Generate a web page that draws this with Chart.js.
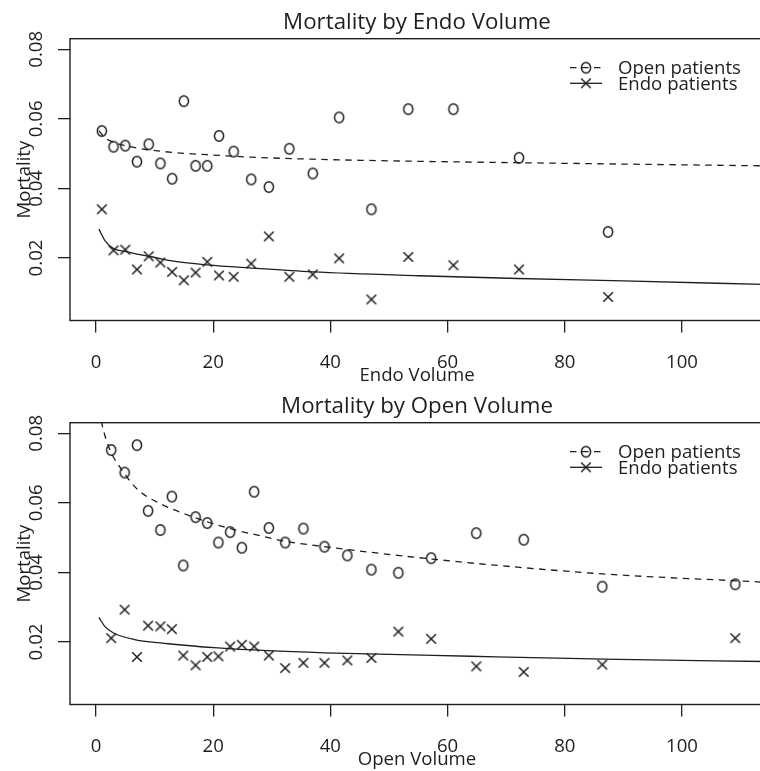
<!DOCTYPE html>
<html>
<head>
<meta charset="utf-8">
<script src="https://cdn.jsdelivr.net/npm/chart.js@4.4.1/dist/chart.umd.min.js"></script>
<style>
  html, body { margin: 0; padding: 0; background: #fff; overflow: hidden; width: 760px; height: 771px; }
  canvas { position: absolute; left: 0; }
  #topChart { top: 0; }
  #bottomChart { top: 384px; }
</style>
</head>
<body>
<canvas id="topChart" width="770" height="387"></canvas>
<canvas id="bottomChart" width="770" height="387"></canvas>
<script>
// top panel: mortality by endo volume
const endoVolume = [1, 3, 5, 7, 9, 11, 13, 15, 17, 19, 21, 23.5, 26.5, 29.5, 33, 37, 41.5, 47, 53.3, 61, 72.2, 87.4];
const openMortByEndo = [0.0565, 0.0520, 0.0523, 0.0477, 0.0527, 0.0472, 0.0428, 0.0651, 0.0465, 0.0465, 0.0551,
  0.0506, 0.0426, 0.0404, 0.0514, 0.0443, 0.0604, 0.0340, 0.0628, 0.0628, 0.0488, 0.0275];
const endoMortByEndo = [0.0340, 0.0222, 0.0224, 0.0167, 0.0205, 0.0187, 0.0160, 0.0136, 0.0158, 0.0189, 0.0150,
  0.0146, 0.0184, 0.0262, 0.0146, 0.0153, 0.0199, 0.0081, 0.0203, 0.0179, 0.0167, 0.0088];
// fitted curves
const fitEndoVolume = [0.5, 1.5, 3, 5, 7, 9, 13.5, 19, 26.5, 37, 55, 72, 90, 114];
const openFitByEndo = [0.0566, 0.0546, 0.0533, 0.0523, 0.0516, 0.0511, 0.0503, 0.0497, 0.0490, 0.0484, 0.0478, 0.0474, 0.0470, 0.0465];
const endoFitByEndo = [0.0283, 0.0251, 0.0227, 0.0219, 0.0211, 0.0205, 0.0190, 0.0180, 0.0171, 0.0160, 0.0149, 0.0141, 0.0134, 0.0124];

// bottom panel: mortality by open volume
const openVolume = [2.6, 4.9, 7.0, 8.9, 11.0, 12.95, 14.9, 17.0, 19.0, 20.9, 22.9, 24.9, 27.0, 29.5, 32.3, 35.4,
  39.0, 42.9, 47.0, 51.6, 57.2, 64.9, 73.0, 86.4, 109.1];
const openMortByOpen = [0.0752, 0.0687, 0.0766, 0.0577, 0.0522, 0.0618, 0.0420, 0.0559, 0.0542, 0.0486, 0.0516,
  0.0471, 0.0632, 0.0528, 0.0486, 0.0526, 0.0474, 0.0449, 0.0408, 0.0399, 0.0441, 0.0513, 0.0494, 0.0359, 0.0366];
const endoMortByOpen = [0.0211, 0.0293, 0.0157, 0.0247, 0.0245, 0.0237, 0.0161, 0.0133, 0.0157, 0.0159, 0.0187,
  0.0192, 0.0187, 0.0161, 0.0125, 0.0140, 0.0140, 0.0147, 0.0154, 0.0230, 0.0209, 0.0130, 0.0114, 0.0135, 0.0211];
const fitOpenVolumeA = [0.5, 1.24, 2.4, 4.4, 7.2, 11.2, 15.2, 19.1, 23.1, 27.6, 32.2, 39, 57, 72, 89, 108, 114];
const openFitByOpen = [0.0870, 0.0811, 0.0752, 0.0695, 0.0637, 0.0596, 0.0568, 0.0545, 0.0525, 0.0507, 0.0490, 0.0474,
  0.0439, 0.0415, 0.0393, 0.0377, 0.0372];
const fitOpenVolumeB = [0.5, 1.5, 3, 6.6, 12.3, 20.8, 29.3, 39, 64, 89, 114];
const endoFitByOpen = [0.0271, 0.0245, 0.0226, 0.0207, 0.0195, 0.0183, 0.0175, 0.0169, 0.0159, 0.0150, 0.0144];

const xTicks = [0, 20, 40, 60, 80, 100];
const yTicks = [0.02, 0.04, 0.06, 0.08];
const legendLabels = ['Open patients', 'Endo patients'];

const INK = '#1e1e1e';
const FONT = '18.6px "Open Sans"';
const TITLE_FONT = '22.3px "Open Sans"';
const DASH = [6.5, 5.5];

// R-like "o" and "x" plotting characters
function glyph(kind) {
  const c = document.createElement('canvas');
  c.width = 14; c.height = 14;
  const g = c.getContext('2d');
  g.strokeStyle = INK;
  g.lineWidth = 1.5;
  g.beginPath();
  if (kind === 'o') {
    g.ellipse(7, 7, 4.6, 5.2, 0, 0, Math.PI * 2);
  } else {
    g.moveTo(2.2, 2.2); g.lineTo(11.8, 11.8);
    g.moveTo(11.8, 2.2); g.lineTo(2.2, 11.8);
  }
  g.stroke();
  return c;
}
const oMark = glyph('o');
const xMark = glyph('x');

// box, titles, tick labels and legend in the style of base R graphics
const rFrame = {
  id: 'rFrame',
  afterDraw(chart, args, opts) {
    const { ctx, chartArea: a, scales: { x, y } } = chart;
    const cx = (a.left + a.right) / 2;
    ctx.save();
    ctx.strokeStyle = INK;
    ctx.lineWidth = 1.4;
    ctx.strokeRect(a.left, a.top, a.right - a.left, a.bottom - a.top);

    ctx.fillStyle = INK;
    ctx.textBaseline = 'alphabetic';
    ctx.textAlign = 'center';
    ctx.font = TITLE_FONT;
    ctx.fillText(opts.title, cx, 29);

    ctx.font = FONT;
    xTicks.forEach(v => ctx.fillText(String(v), x.getPixelForValue(v), 368));
    ctx.fillText(opts.xTitle, cx, 380.5);

    yTicks.forEach(v => {
      ctx.save();
      ctx.translate(41.5, y.getPixelForValue(v));
      ctx.rotate(-Math.PI / 2);
      ctx.fillText(v.toFixed(2), 0, 0);
      ctx.restore();
    });
    ctx.save();
    ctx.translate(29.5, (a.top + a.bottom) / 2);
    ctx.rotate(-Math.PI / 2);
    ctx.fillText('Mortality', 0, 0);
    ctx.restore();

    // legend
    const rows = [67.7, 83.3];
    ctx.lineWidth = 1.3;
    rows.forEach((ry, i) => {
      ctx.beginPath();
      ctx.setLineDash(i === 0 ? DASH : []);
      ctx.moveTo(570, ry);
      ctx.lineTo(602, ry);
      ctx.stroke();
      ctx.setLineDash([]);
      ctx.drawImage(i === 0 ? oMark : xMark, 586 - 7, ry - 7);
      ctx.textAlign = 'left';
      ctx.fillText(legendLabels[i], 618, ry + 6.6);
    });
    ctx.restore();
  }
};

function pts(xs, ys) {
  return xs.map((v, i) => ({ x: v, y: ys[i] }));
}

function makePanel(id, title, xTitle, xs, openY, endoY, fitXA, openFit, fitXB, endoFit) {
  const fitStyle = {
    showLine: true, pointRadius: 0, borderColor: INK, borderWidth: 1.3,
    cubicInterpolationMode: 'monotone', clip: 0
  };
  new Chart(document.getElementById(id), {
    type: 'scatter',
    data: {
      datasets: [
        Object.assign({ label: 'Open fit', data: pts(fitXA, openFit), borderDash: DASH }, fitStyle),
        Object.assign({ label: 'Endo fit', data: pts(fitXB, endoFit) }, fitStyle),
        { label: legendLabels[0], data: pts(xs, openY), pointStyle: oMark, pointRadius: 5 },
        { label: legendLabels[1], data: pts(xs, endoY), pointStyle: xMark, pointRadius: 5 }
      ]
    },
    options: {
      responsive: false,
      animation: false,
      devicePixelRatio: 1,
      events: [],
      layout: { padding: { top: 38.7, right: 4.8, bottom: 0, left: 0 } },
      scales: {
        x: {
          type: 'linear', min: -4.43, max: 114,
          afterBuildTicks: s => { s.ticks = xTicks.map(v => ({ value: v })); },
          afterFit: s => { s.height = 66.5; },
          grid: { drawOnChartArea: false, tickLength: 12, color: INK, lineWidth: 1.3 },
          border: { display: false },
          ticks: { display: false }
        },
        y: {
          type: 'linear', min: 0.00203, max: 0.08305,
          afterBuildTicks: s => { s.ticks = yTicks.map(v => ({ value: v })); },
          afterFit: s => { s.width = 70; },
          grid: { drawOnChartArea: false, tickLength: 12, color: INK, lineWidth: 1.3 },
          border: { display: false },
          ticks: { display: false }
        }
      },
      plugins: {
        legend: { display: false },
        tooltip: { enabled: false },
        rFrame: { title: title, xTitle: xTitle }
      }
    },
    plugins: [rFrame]
  });
}

makePanel('topChart', 'Mortality by Endo Volume', 'Endo Volume',
  endoVolume, openMortByEndo, endoMortByEndo, fitEndoVolume, openFitByEndo, fitEndoVolume, endoFitByEndo);
makePanel('bottomChart', 'Mortality by Open Volume', 'Open Volume',
  openVolume, openMortByOpen, endoMortByOpen, fitOpenVolumeA, openFitByOpen, fitOpenVolumeB, endoFitByOpen);
</script>
</body>
</html>
